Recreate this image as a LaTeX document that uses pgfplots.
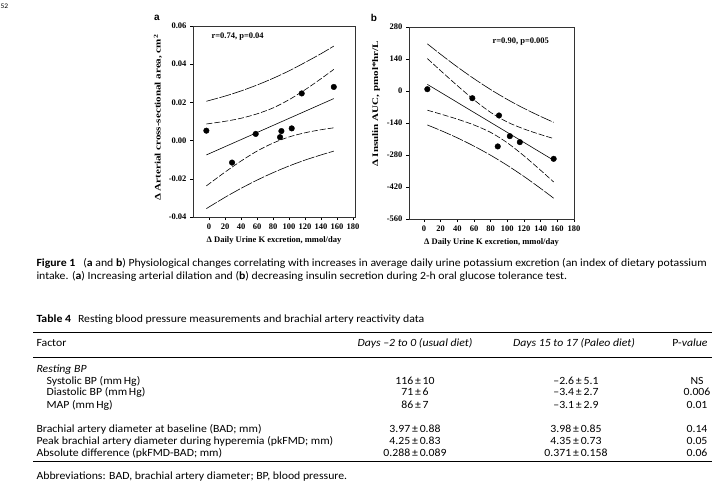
\documentclass[border=0pt]{standalone}
\usepackage{fontspec}
\usepackage{graphicx}
\usepackage{pgfplots}
\pgfplotsset{compat=1.18}
\setmainfont{Carlito}[FakeStretch=1.07]
\newfontfamily\chartfont{Liberation Serif}
\newfontfamily\labfont{Liberation Sans}

\newcommand{\cf}{\chartfont\bfseries\fontsize{8.5}{10}\selectfont}
\newcommand{\tf}{\fontsize{11}{13}\selectfont}

% one table row: baseline y, label, indent, usual diet, paleo diet, p
\newcommand{\trow}[6]{%
  \node[anchor=base west,font=\tf] at (#3pt,-#1pt) {#2};
  \node[anchor=base,font=\tf] at (415pt,-#1pt) {#4};
  \node[anchor=base,font=\tf] at (576pt,-#1pt) {#5};
  \node[anchor=base,font=\tf] at (697pt,-#1pt) {#6};
}

\pgfplotsset{
  panel/.style={
    scale only axis, anchor=south west, clip=false,
    tick align=outside, xtick pos=bottom, ytick pos=left,
    major tick length=3pt,
    axis line style={black!80, line width=0.9pt},
    every tick/.append style={black, line width=0.6pt},
    tick label style={font=\cf},
    label style={font=\cf},
    scaled y ticks=false,
    /pgf/number format/assume math mode=true,
    xtick={0,20,...,180},
  },
  outer/.style={black, line width=0.6pt, dash pattern=on 12pt off 1.5pt, smooth},
  inner/.style={black, line width=0.6pt, dash pattern=on 6pt off 2pt, smooth},
  fit/.style={black, line width=0.6pt},
  pts/.style={only marks, mark=*, mark size=2.8pt, black},
}

\begin{document}
\begin{tikzpicture}
\path[use as bounding box] (0,0) rectangle (718pt,-499pt);

\node[anchor=west,font=\fontsize{7}{8}\selectfont] at (-3pt,-6pt) {52};
\node[font=\labfont\bfseries\fontsize{10}{12}\selectfont] at (157pt,-18pt) {a};
\node[font=\labfont\bfseries\fontsize{10}{12}\selectfont] at (374pt,-18pt) {b};

% ---- panel a
\begin{axis}[panel,
  at={(193pt,-217pt)}, width=162pt, height=191pt,
  xmin=-20, xmax=182.5, ymin=-0.04, ymax=0.06,
  ytick={-0.04,-0.02,0,0.02,0.04,0.06},
  yticklabels={-0.04,-0.02,0.00,0.02,0.04,0.06},
  xlabel={Δ Daily Urine K excretion, mmol/day},
  ylabel={\scalebox{1.3}[1]{Δ Arterial cross-sectional area, cm\textsuperscript{2}}},
  ylabel style={at={(ticklabel cs:0.52)}},
]
\addplot[outer] coordinates {(-3.3,0.0206) (20,0.0233) (40,0.0260) (60,0.0291) (80,0.0326) (100,0.0365) (120,0.0409) (140,0.0455) (156,0.0495)};
\addplot[inner] coordinates {(-3.3,0.0087) (20,0.0101) (40,0.0117) (60,0.0140) (80,0.0171) (100,0.0214) (120,0.0266) (140,0.0324) (156,0.0373)};
\addplot[fit] coordinates {(-3.3,-0.0075) (156,0.0220)};
\addplot[inner] coordinates {(-3.3,-0.0237) (20,-0.0165) (40,-0.0107) (60,-0.0055) (80,-0.0013) (100,0.0019) (120,0.0041) (140,0.0057) (156,0.0067)};
\addplot[outer] coordinates {(-3.3,-0.0356) (20,-0.0297) (40,-0.0250) (60,-0.0207) (80,-0.0168) (100,-0.0133) (120,-0.0102) (140,-0.0075) (156,-0.0055)};
\addplot[pts] coordinates {(-3.3,0.0052) (28.8,-0.0115) (58.4,0.0035) (88.8,0.0018) (90.5,0.0050) (103.4,0.0064) (115.9,0.0247) (156,0.0281)};
\end{axis}
\node[anchor=west,font=\cf] at (208pt,-37pt) {r=0.74, p=0.04};

% ---- panel b
\begin{axis}[panel,
  at={(409pt,-219pt)}, width=165pt, height=192pt,
  xmin=-18, xmax=180, ymin=-560, ymax=280,
  ytick={-560,-420,-280,-140,0,140,280},
  yticklabels={-560,-420,-280,-140,0,140,280},
  xlabel={Δ Daily Urine K excretion, mmol/day},
  ylabel={\scalebox{1.3}[1]{Δ Insulin AUC, pmol*hr/L}},
  ylabel style={at={(ticklabel cs:0.6)}},
]
\addplot[outer] coordinates {(4,206.5) (20,160.5) (40,105.4) (60,53.9) (80,6.3) (100,-37) (120,-76.1) (140,-111.3) (155.6,-137)};
\addplot[inner] coordinates {(4,142) (20,88.8) (40,23.5) (60,-38.6) (80,-93.7) (100,-135.8) (120,-166.2) (140,-190.7) (155.6,-208)};
\addplot[fit] coordinates {(4,29) (155.6,-303)};
\addplot[inner] coordinates {(4,-84) (20,-100.8) (40,-123.1) (60,-148.6) (80,-181.1) (100,-226.6) (120,-283.8) (140,-346.9) (155.6,-398)};
\addplot[outer] coordinates {(4,-148.5) (20,-172.5) (40,-205) (60,-241.1) (80,-281.1) (100,-325.4) (120,-373.9) (140,-426.3) (155.6,-469)};
\addplot[pts] coordinates {(4,8) (58,-31.5) (88.5,-242.5) (90,-107) (103,-197.5) (115,-223.7) (155.6,-296.7)};
\end{axis}
\node[anchor=west,font=\cf] at (489pt,-42pt) {r=0.90, p=0.005};

% ---- caption
\node[anchor=base west,font=\tf] at (33pt,-266.8pt) {\textbf{Figure 1}\hspace{8pt}(\textbf{a} and \textbf{b}) Physiological changes correlating with increases in average daily urine potassium excretion (an index of dietary potassium};
\node[anchor=base west,font=\tf] at (33pt,-279.2pt) {intake. (\textbf{a}) Increasing arterial dilation and (\textbf{b}) decreasing insulin secretion during 2-h oral glucose tolerance test.};

% ---- table
\node[anchor=base west,font=\tf] at (33pt,-322.8pt) {\textbf{Table 4}\hspace{7pt}Resting blood pressure measurements and brachial artery reactivity data};
\draw[line width=1.2pt] (33pt,-332.3pt) -- (712pt,-332.3pt);
\node[anchor=base west,font=\tf] at (33pt,-346.2pt) {Factor};
\node[anchor=base,font=\tf] at (415pt,-346.2pt) {\itshape Days –2 to 0 (usual diet)};
\node[anchor=base,font=\tf] at (574pt,-346.2pt) {\itshape Days 15 to 17 (Paleo diet)};
\node[anchor=base east,font=\tf] at (711pt,-346.2pt) {P-\textit{value}};
\draw[line width=0.8pt] (33pt,-357.3pt) -- (712pt,-357.3pt);
\node[anchor=base west,font=\tf] at (33pt,-372.2pt) {\itshape Resting BP};
\trow{384.5}{Systolic BP (mm\,Hg)}{43}{116\,±\,10}{–2.6\,±\,5.1}{NS}
\trow{395.8}{Diastolic BP (mm\,Hg)}{43}{71\,±\,6}{–3.4\,±\,2.7}{0.006}
\trow{408.5}{MAP (mm\,Hg)}{43}{86\,±\,7}{–3.1\,±\,2.9}{0.01}
\trow{432.2}{Brachial artery diameter at baseline (BAD; mm)}{33}{3.97\,±\,0.88}{3.98\,±\,0.85}{0.14}
\trow{444.2}{Peak brachial artery diameter during hyperemia (pkFMD; mm)}{33}{4.25\,±\,0.83}{4.35\,±\,0.73}{0.05}
\trow{456.2}{Absolute difference (pkFMD-BAD; mm)}{33}{0.288\,±\,0.089}{0.371\,±\,0.158}{0.06}
\draw[line width=0.8pt] (33pt,-461.7pt) -- (712pt,-461.7pt);
\node[anchor=base west,font=\tf] at (33pt,-479.2pt) {Abbreviations: BAD, brachial artery diameter; BP, blood pressure.};
\end{tikzpicture}
\end{document}
